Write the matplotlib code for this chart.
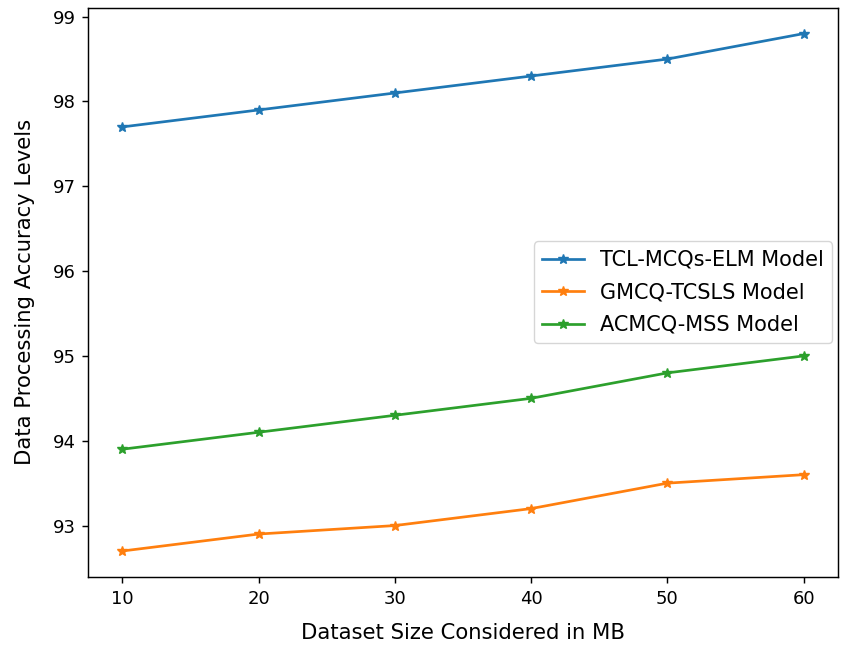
import matplotlib
matplotlib.use("Agg")
import matplotlib.pyplot as plt

sizes = [10, 20, 30, 40, 50, 60]
tcl = [97.7, 97.9, 98.1, 98.3, 98.5, 98.8]
gmcq = [92.7, 92.9, 93.0, 93.2, 93.5, 93.6]
acmcq = [93.9, 94.1, 94.3, 94.5, 94.8, 95.0]

s = 1.3
fig, ax = plt.subplots(figsize=(8.41, 6.46), dpi=100)
for y, lab in [(tcl, 'TCL-MCQs-ELM Model'), (gmcq, 'GMCQ-TCSLS Model'), (acmcq, 'ACMCQ-MSS Model')]:
    ax.plot(sizes, y, marker='*', lw=1.5 * s, ms=6 * s, label=lab)
ax.set_xlabel('Dataset Size Considered in MB', fontsize=15.2, labelpad=11)
ax.set_ylabel('Data Processing Accuracy Levels', fontsize=15.2, labelpad=13)
ax.tick_params(labelsize=13, length=3.5 * s, width=0.8 * s, pad=3.5 * s)
for sp in ax.spines.values():
    sp.set_linewidth(0.8 * s)
ax.legend(loc='center right', fontsize=15, borderaxespad=0.25, labelspacing=0.6)
fig.subplots_adjust(left=0.105, right=0.996, top=0.988, bottom=0.107)
fig.savefig('out.png', dpi=100)
